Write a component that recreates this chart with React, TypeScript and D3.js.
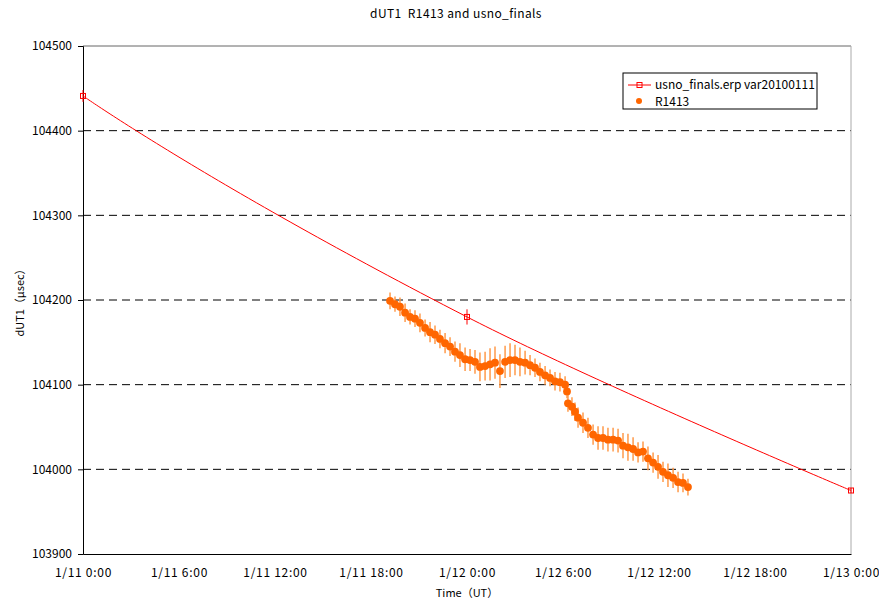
import * as d3 from "d3";
import React, { useRef, useEffect } from "react";

// hours since 1/11 0:00 (UT)
const usnoHours = [0, 24, 48];
const usnoValues = [104441, 104180, 103975];
const usnoErr = [7, 9, 3];

const r1413Hours = [
  19.19, 19.5, 19.81, 20.13, 20.44, 20.75, 21.06, 21.38, 21.69, 22.0,
  22.31, 22.63, 22.94, 23.25, 23.56, 23.88, 24.19, 24.5, 24.81, 25.13,
  25.44, 25.75, 26.06, 26.38, 26.69, 27.0, 27.31, 27.63, 27.94, 28.25,
  28.56, 28.88, 29.19, 29.5, 29.81, 30.13, 30.25, 30.31, 30.56, 30.75,
  30.94, 31.25, 31.56, 31.88, 32.19, 32.5, 32.81, 33.13, 33.44, 33.75,
  34.06, 34.38, 34.69, 35.0, 35.31, 35.63, 35.94, 36.25, 36.56, 36.88,
  37.19, 37.5, 37.81,
];
const r1413Values = [
  104199, 104195, 104192, 104185, 104180, 104178, 104173, 104167, 104162, 104159,
  104154, 104149, 104145, 104139, 104135, 104130, 104129, 104127, 104121, 104122,
  104124, 104126, 104116, 104127, 104129, 104129, 104127, 104126, 104123, 104120,
  104115, 104111, 104108, 104104, 104103, 104100, 104092, 104078, 104074, 104068,
  104061, 104055, 104049, 104041, 104037, 104037, 104035, 104035, 104034, 104028,
  104026, 104024, 104020, 104021, 104013, 104008, 104003, 103997, 103993, 103990,
  103985, 103984, 103979,
];
const r1413Err = [
  10, 9, 11, 11, 9, 10, 11, 10, 12, 11,
  11, 12, 11, 12, 14, 14, 13, 14, 17, 17,
  19, 19, 20, 19, 20, 18, 17, 14, 12, 11,
  11, 11, 10, 11, 11, 10, 8, 10, 11, 11,
  12, 12, 12, 12, 14, 14, 14, 14, 14, 15,
  16, 14, 12, 12, 14, 12, 14, 12, 14, 12,
  12, 11, 10,
];

const xTickHours = [0, 6, 12, 18, 24, 30, 36, 42, 48];
const xTickLabels = [
  "1/11 0:00", "1/11 6:00", "1/11 12:00", "1/11 18:00", "1/12 0:00",
  "1/12 6:00", "1/12 12:00", "1/12 18:00", "1/13 0:00",
];
const yTicks = [103900, 104000, 104100, 104200, 104300, 104400, 104500];

const W = 879;
const H = 604;
const left = 83;
const right = 851;
const top = 46;
const bottom = 554;
const font = "'Noto Sans CJK JP', 'Noto Sans', sans-serif";

// spreadsheet-style smoothed line: bezier segments whose handles follow the
// neighbour chord; handles at the two ends collapse onto the end points
const smoothPath = (pts: [number, number][]) => {
  const p = d3.path();
  const kIn = 1 / 3;
  const kOut = 1 / 6;
  p.moveTo(pts[0][0], pts[0][1]);
  for (let i = 0; i < pts.length - 1; i++) {
    const a = pts[i];
    const b = pts[i + 1];
    const prev = pts[i - 1];
    const next = pts[i + 2];
    const c1 = prev ? [a[0] + kOut * (b[0] - prev[0]), a[1] + kOut * (b[1] - prev[1])] : a;
    const c2 = next ? [b[0] - kIn * (next[0] - a[0]), b[1] - kIn * (next[1] - a[1])] : b;
    p.bezierCurveTo(c1[0], c1[1], c2[0], c2[1], b[0], b[1]);
  }
  return p.toString();
};

export default function App() {
  const ref = useRef<SVGSVGElement>(null);

  useEffect(() => {
    const svg = d3.select(ref.current);
    svg.selectAll("*").remove();

    const x = d3.scaleLinear().domain([0, 48]).range([left, right]);
    const y = d3.scaleLinear().domain([103900, 104500]).range([bottom, top]);

    // grid lines
    svg
      .append("g")
      .selectAll("line")
      .data(yTicks.filter((t) => t > 103900 && t < 104500))
      .enter()
      .append("line")
      .attr("x1", left)
      .attr("x2", right)
      .attr("y1", (d) => y(d))
      .attr("y2", (d) => y(d))
      .attr("stroke", "#000")
      .attr("stroke-dasharray", "8,5");

    // frame
    svg.append("line").attr("x1", left).attr("x2", right).attr("y1", top).attr("y2", top).attr("stroke", "#666");
    svg.append("line").attr("x1", right).attr("x2", right).attr("y1", top).attr("y2", bottom).attr("stroke", "#aaa");

    // y axis
    const yAxis = svg
      .append("g")
      .attr("transform", `translate(${left},0)`)
      .call(d3.axisLeft(y).tickValues(yTicks).tickSize(5).tickPadding(6).tickFormat(d3.format("d")));
    yAxis.select(".domain").attr("stroke", "#000");
    yAxis.selectAll("text").attr("font-family", font).attr("font-size", 12).attr("fill", "#000");

    // x axis
    const xAxis = svg
      .append("g")
      .attr("transform", `translate(0,${bottom})`)
      .call(
        d3
          .axisBottom(x)
          .tickValues(xTickHours)
          .tickSize(0)
          .tickPadding(14)
          .tickFormat((d, i) => xTickLabels[i])
      );
    xAxis.select(".domain").attr("stroke", "#000");
    xAxis
      .selectAll("text")
      .attr("font-family", font)
      .attr("font-size", 12)
      .attr("letter-spacing", 0.7)
      .attr("fill", "#000");

    // usno line
    const usnoPts = usnoValues.map((v, i) => [x(usnoHours[i]), y(v)] as [number, number]);
    svg
      .append("path")
      .attr("d", smoothPath(usnoPts))
      .attr("fill", "none")
      .attr("stroke", "#ff0000")
      .attr("stroke-width", 1);

    svg
      .append("g")
      .selectAll("line")
      .data(usnoValues)
      .enter()
      .append("line")
      .attr("x1", (d, i) => x(usnoHours[i]))
      .attr("x2", (d, i) => x(usnoHours[i]))
      .attr("y1", (d, i) => y(d - usnoErr[i]))
      .attr("y2", (d, i) => y(d + usnoErr[i]))
      .attr("stroke", "#ff0000");

    svg
      .append("g")
      .selectAll("rect")
      .data(usnoValues)
      .enter()
      .append("rect")
      .attr("x", (d, i) => x(usnoHours[i]) - 2.5)
      .attr("y", (d) => y(d) - 2.5)
      .attr("width", 5)
      .attr("height", 5)
      .attr("fill", "none")
      .attr("stroke", "#ff0000");

    // R1413 error bars and points
    svg
      .append("g")
      .selectAll("line")
      .data(r1413Values)
      .enter()
      .append("line")
      .attr("x1", (d, i) => x(r1413Hours[i]))
      .attr("x2", (d, i) => x(r1413Hours[i]))
      .attr("y1", (d, i) => y(d - r1413Err[i]))
      .attr("y2", (d, i) => y(d + r1413Err[i]))
      .attr("stroke", "#ff9a4a")
      .attr("stroke-width", 1.5);

    svg
      .append("g")
      .selectAll("circle")
      .data(r1413Values)
      .enter()
      .append("circle")
      .attr("cx", (d, i) => x(r1413Hours[i]))
      .attr("cy", (d) => y(d))
      .attr("r", 3.9)
      .attr("fill", "#ff6600");

    // legend
    const lg = svg.append("g");
    lg.append("rect").attr("x", 623).attr("y", 73).attr("width", 194).attr("height", 36).attr("fill", "#fff").attr("stroke", "#000");
    lg.append("line").attr("x1", 628).attr("x2", 651).attr("y1", 85).attr("y2", 85).attr("stroke", "#ff0000");
    lg.append("rect").attr("x", 637).attr("y", 82.5).attr("width", 5).attr("height", 5).attr("fill", "none").attr("stroke", "#ff0000");
    lg.append("circle").attr("cx", 639).attr("cy", 101).attr("r", 3).attr("fill", "#ff6600");
    lg.append("text").attr("x", 655).attr("y", 89).text("usno_finals.erp var20100111");
    lg.append("text").attr("x", 655).attr("y", 106).text("R1413");
    lg.selectAll("text").attr("font-family", font).attr("font-size", 12).attr("fill", "#000");

    // titles
    svg
      .append("text")
      .attr("x", 456)
      .attr("y", 18)
      .attr("text-anchor", "middle")
      .attr("font-family", font)
      .attr("font-size", 12)
      .attr("letter-spacing", 0.4)
      .attr("xml:space", "preserve")
      .text("dUT1  R1413 and usno_finals");
    svg
      .append("text")
      .attr("x", 467)
      .attr("y", 597)
      .attr("text-anchor", "middle")
      .attr("font-family", font)
      .attr("font-size", 11)
      .text("Time（UT）");
    svg
      .append("text")
      .attr("transform", "translate(24,300) rotate(-90)")
      .attr("text-anchor", "middle")
      .attr("font-family", font)
      .attr("font-size", 11)
      .text("dUT1（μsec）");
  }, []);

  return (
    <div style={{ position: "absolute", left: 0, top: 0 }}>
      <svg ref={ref} width={W} height={H} style={{ display: "block", background: "#fff" }}></svg>
    </div>
  );
}
